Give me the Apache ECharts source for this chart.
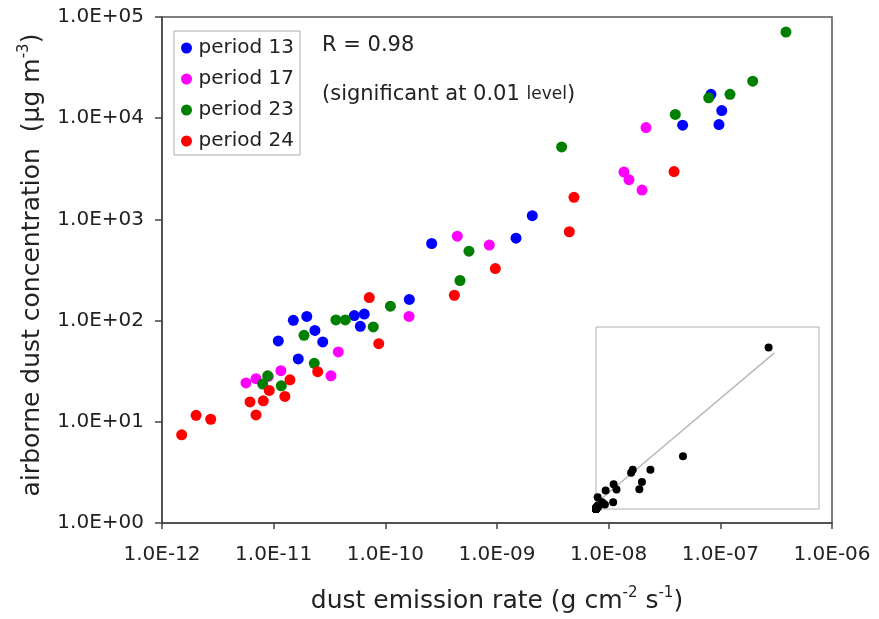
<!DOCTYPE html>
<html>
<head>
<meta charset="utf-8">
<script src="https://cdn.jsdelivr.net/npm/echarts@6/dist/echarts.min.js"></script>
<style>html,body{margin:0;padding:0;background:#fff}#c{width:879px;height:619px}</style>
</head>
<body>
<div id="c"></div>
<script>
const xTickLabels = ['1.0E-12','1.0E-11','1.0E-10','1.0E-09','1.0E-08','1.0E-07','1.0E-06'];
const yTickLabels = ['1.0E+00','1.0E+01','1.0E+02','1.0E+03','1.0E+04','1.0E+05'];
const seriesNames = ['period 13','period 17','period 23','period 24'];

const p13X = [8.24e-8, 1.03e-7, 4.60e-8, 9.72e-8, 2.60e-10, 2.07e-9, 1.48e-9, 1.64e-10, 1.50e-11, 1.98e-11, 2.34e-11, 2.75e-11, 1.10e-11, 1.66e-11, 5.27e-11, 6.48e-11, 5.97e-11];
const p13Y = [17200, 11900, 8530, 8660, 578, 1088, 653, 162, 100.7, 110, 80, 61.5, 63, 41.8, 112, 116, 87.9];

const p17X = [2.16e-8, 1.37e-8, 1.52e-8, 1.99e-8, 4.41e-10, 8.53e-10, 1.63e-10, 3.79e-11, 3.26e-11, 5.65e-12, 6.95e-12, 1.16e-11, 8.95e-12];
const p17Y = [8090, 2940, 2470, 1950, 683, 557, 110, 49, 28.5, 24.2, 26.7, 32, 28.1];

const p23X = [3.87e-7, 1.95e-7, 1.22e-7, 7.87e-8, 3.95e-8, 3.79e-9, 5.61e-10, 4.66e-10, 1.11e-10, 3.61e-11, 4.38e-11, 7.80e-11, 1.87e-11, 2.31e-11, 8.84e-12, 7.98e-12, 1.17e-11];
const p23Y = [71000, 23200, 17200, 15900, 10900, 5200, 485, 249, 139, 101.6, 101.6, 86.6, 71.6, 37.8, 28.5, 23.6, 22.7];

const p24X = [3.85e-8, 4.89e-9, 4.44e-9, 9.66e-10, 4.15e-10, 7.18e-11, 8.73e-11, 2.48e-11, 1.40e-11, 9.14e-12, 8.07e-12, 6.14e-12, 1.26e-11, 6.95e-12, 2.02e-12, 2.73e-12, 1.50e-12];
const p24Y = [2966, 1651, 755, 327, 178, 169, 59.2, 31.3, 26.0, 20.4, 16.1, 15.7, 17.8, 11.7, 11.6, 10.6, 7.44];

// inset (linear scale) regression line end points
const insetLineX = [5e-9, 4.0e-7];
const insetLineY = [3300, 68600];

const colors = ['#0000ff', '#ff00ff', '#008000', '#ff0000'];
const FONT = 'DejaVu Sans';
const zip = (xs, ys) => xs.map((x, i) => [x, ys[i]]);
const allX = [...p13X, ...p17X, ...p23X, ...p24X];
const allY = [...p13Y, ...p17Y, ...p23Y, ...p24Y];
const groups = [[p13X, p13Y], [p17X, p17Y], [p23X, p23Y], [p24X, p24Y]];

const chart = echarts.init(document.getElementById('c'), null, {renderer: 'canvas'});
chart.setOption({
  animation: false,
  textStyle: {fontFamily: FONT, color: '#222'},
  grid: [
    {left: 162, right: 47, top: 17, bottom: 96, show: true, borderColor: '#555', borderWidth: 1.5, backgroundColor: 'transparent'},
    {left: 596, top: 327, width: 223, height: 182, show: true, borderColor: '#b0b0b0', borderWidth: 1, backgroundColor: '#fff'}
  ],
  xAxis: [
    {
      type: 'log', logBase: 10, min: 1e-12, max: 1e-6, gridIndex: 0,
      name: '{a|dust emission rate (g cm}{s|-2}{a| s}{s|-1}{a|)}',
      nameLocation: 'middle', nameGap: 63,
      nameTextStyle: {rich: {
        a: {fontFamily: FONT, fontSize: 25, color: '#222', lineHeight: 30},
        s: {fontFamily: FONT, fontSize: 15, color: '#222', verticalAlign: 'top', lineHeight: 16}
      }},
      axisLine: {show: true, lineStyle: {color: '#444', width: 1.5}},
      axisTick: {show: true, inside: false, length: 6, lineStyle: {color: '#444', width: 1.5}},
      minorTick: {show: false},
      splitLine: {show: false},
      axisLabel: {
        margin: 22, fontSize: 20, color: '#222', fontFamily: FONT,
        formatter: v => xTickLabels[Math.round(Math.log10(v)) + 12]
      }
    },
    {type: 'value', gridIndex: 1, min: 0, max: 5e-7, show: false}
  ],
  yAxis: [
    {
      type: 'log', logBase: 10, min: 1, max: 1e5, gridIndex: 0,
      name: '{a|airborne dust concentration  (μg m}{s|-3}{a|)}',
      nameLocation: 'middle', nameGap: 115, nameRotate: 90,
      nameTextStyle: {padding: [0, 0, 0, 10], rich: {
        a: {fontFamily: FONT, fontSize: 25, color: '#222', lineHeight: 30},
        s: {fontFamily: FONT, fontSize: 15, color: '#222', verticalAlign: 'top', lineHeight: 16}
      }},
      axisLine: {show: true, lineStyle: {color: '#444', width: 1.5}},
      axisTick: {show: true, inside: false, length: 7, lineStyle: {color: '#444', width: 1.5}},
      minorTick: {show: false},
      splitLine: {show: false},
      axisLabel: {
        margin: 18, fontSize: 20, color: '#222', fontFamily: FONT,
        formatter: v => yTickLabels[Math.round(Math.log10(v))]
      }
    },
    {type: 'value', gridIndex: 1, min: 0, max: 8e4, show: false}
  ],
  legend: {
    data: seriesNames,
    orient: 'vertical',
    left: 174, top: 31,
    icon: 'circle',
    itemWidth: 14, itemHeight: 11, itemGap: 11,
    padding: [7, 6, 4, 7],
    borderColor: '#aaa', borderWidth: 1, borderRadius: 0,
    backgroundColor: '#fff',
    textStyle: {fontFamily: FONT, fontSize: 20, color: '#222', lineHeight: 20}
  },
  graphic: [
    {type: 'text', left: 322, top: 35, z: 100,
     style: {text: 'R = 0.98', fontFamily: FONT, fontSize: 21, fill: '#222'}},
    {type: 'text', left: 322, top: 84, z: 100,
     style: {text: '{a|(significant at 0.01 }{b|level}{a|)}', fill: '#222',
       rich: {a: {fontFamily: FONT, fontSize: 21, fill: '#222'}, b: {fontFamily: FONT, fontSize: 17, fill: '#222'}}}}
  ],
  series: [
    ...groups.map((g, i) => ({
      name: seriesNames[i], type: 'scatter', xAxisIndex: 0, yAxisIndex: 0,
      symbol: 'circle', symbolSize: 11,
      itemStyle: {color: colors[i], opacity: 1},
      data: zip(g[0], g[1]), z: 3 + i
    })),
    {
      name: 'inset line', type: 'line', xAxisIndex: 1, yAxisIndex: 1,
      showSymbol: false, symbol: 'none', lineStyle: {color: '#b8b8b8', width: 1.5},
      data: zip(insetLineX, insetLineY), z: 10
    },
    {
      name: 'inset', type: 'scatter', xAxisIndex: 1, yAxisIndex: 1,
      symbol: 'circle', symbolSize: 8, clip: false,
      itemStyle: {color: '#000', opacity: 1},
      data: zip(allX, allY), z: 11
    }
  ]
});
</script>
</body>
</html>
